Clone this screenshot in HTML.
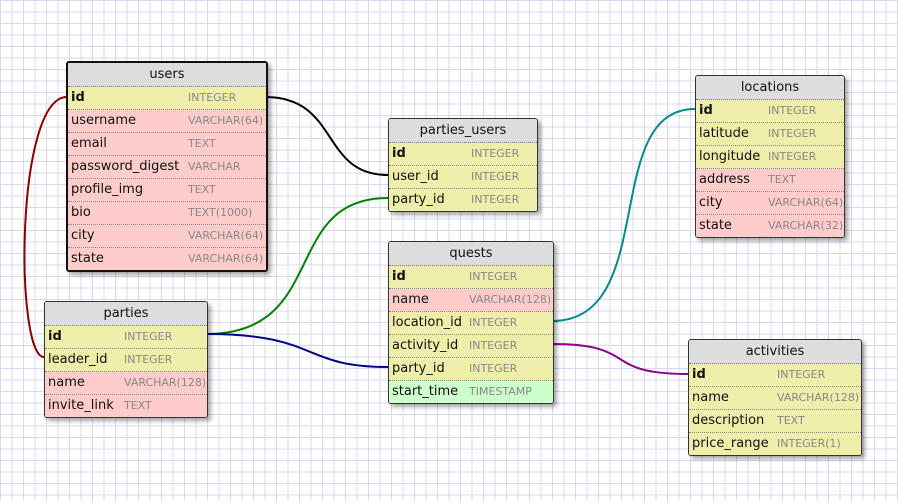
<!DOCTYPE html>
<html><head><meta charset="utf-8"><style>
body{margin:0;width:898px;height:501px;overflow:hidden;background:#fff;
background-image:linear-gradient(to right,#d8d8f2 1px,transparent 1px),linear-gradient(to bottom,#d8d8f2 1px,transparent 1px);
background-size:11.5px 11.5px;font-family:"DejaVu Sans","Liberation Sans",sans-serif;position:relative}
.t{position:absolute;border:1px solid #333;border-radius:3px;box-shadow:3px 3px 4px rgba(0,0,0,.35);overflow:hidden;background:#fff}
.t.sel{border:2px solid #111}
.h{height:23px;line-height:23px;text-align:center;background:#ddd;font-size:13px;color:#111;border-bottom:1px dotted #777}
.r{height:22px;line-height:22px;border-bottom:1px dotted #888;position:relative;font-size:13px;color:#111;padding-left:3px}
.r:last-child{border-bottom:none}
.r span{position:absolute;top:0;font-size:11px;color:#888}
.y{background:#eeeeaa}.p{background:#ffcccc}.g{background:#ccffcc}
.b{font-weight:bold}
svg{position:absolute;left:0;top:0}
</style></head><body>
<svg width="898" height="501" fill="none" stroke-width="2">
<path d="M265,97 C340,97 320,175 388,175" stroke="#000"/>
<path d="M67,97 C15,97 15,357 44,357" stroke="#8b0000"/>
<path d="M206,334 C330,334 280,198 388,198" stroke="#008000"/>
<path d="M206,334 C320,334 300,367 388,367" stroke="#000090"/>
<path d="M552,321 C660,321 600,109 695,109" stroke="#008b8b"/>
<path d="M552,344 C640,344 600,374 688,374" stroke="#8b008b"/>
</svg>

<div class="t sel" style="left:66px;top:61px;width:198px">
<div class="h">users</div>
<div class="r y b">id<span style="left:120px;font-weight:normal">INTEGER</span></div>
<div class="r p">username<span style="left:120px">VARCHAR(64)</span></div>
<div class="r p">email<span style="left:120px">TEXT</span></div>
<div class="r p">password_digest<span style="left:120px">VARCHAR</span></div>
<div class="r p">profile_img<span style="left:120px">TEXT</span></div>
<div class="r p">bio<span style="left:120px">TEXT(1000)</span></div>
<div class="r p">city<span style="left:120px">VARCHAR(64)</span></div>
<div class="r p">state<span style="left:120px">VARCHAR(64)</span></div>
</div>

<div class="t" style="left:388px;top:118px;width:148px">
<div class="h">parties_users</div>
<div class="r y b">id<span style="left:82px;font-weight:normal">INTEGER</span></div>
<div class="r y">user_id<span style="left:82px">INTEGER</span></div>
<div class="r y">party_id<span style="left:82px">INTEGER</span></div>
</div>

<div class="t" style="left:695px;top:75px;width:148px">
<div class="h">locations</div>
<div class="r y b">id<span style="left:72px;font-weight:normal">INTEGER</span></div>
<div class="r y">latitude<span style="left:72px">INTEGER</span></div>
<div class="r y">longitude<span style="left:72px">INTEGER</span></div>
<div class="r p">address<span style="left:72px">TEXT</span></div>
<div class="r p">city<span style="left:72px">VARCHAR(64)</span></div>
<div class="r p">state<span style="left:72px">VARCHAR(32)</span></div>
</div>

<div class="t" style="left:388px;top:241px;width:164px">
<div class="h">quests</div>
<div class="r y b">id<span style="left:80px;font-weight:normal">INTEGER</span></div>
<div class="r p">name<span style="left:80px">VARCHAR(128)</span></div>
<div class="r y">location_id<span style="left:80px">INTEGER</span></div>
<div class="r y">activity_id<span style="left:80px">INTEGER</span></div>
<div class="r y">party_id<span style="left:80px">INTEGER</span></div>
<div class="r g">start_time<span style="left:80px">TIMESTAMP</span></div>
</div>

<div class="t" style="left:44px;top:301px;width:162px">
<div class="h">parties</div>
<div class="r y b">id<span style="left:79px;font-weight:normal">INTEGER</span></div>
<div class="r y">leader_id<span style="left:79px">INTEGER</span></div>
<div class="r p">name<span style="left:79px">VARCHAR(128)</span></div>
<div class="r p">invite_link<span style="left:79px">TEXT</span></div>
</div>

<div class="t" style="left:688px;top:339px;width:172px">
<div class="h">activities</div>
<div class="r y b">id<span style="left:88px;font-weight:normal">INTEGER</span></div>
<div class="r y">name<span style="left:88px">VARCHAR(128)</span></div>
<div class="r y">description<span style="left:88px">TEXT</span></div>
<div class="r y">price_range<span style="left:88px">INTEGER(1)</span></div>
</div>
</body></html>
